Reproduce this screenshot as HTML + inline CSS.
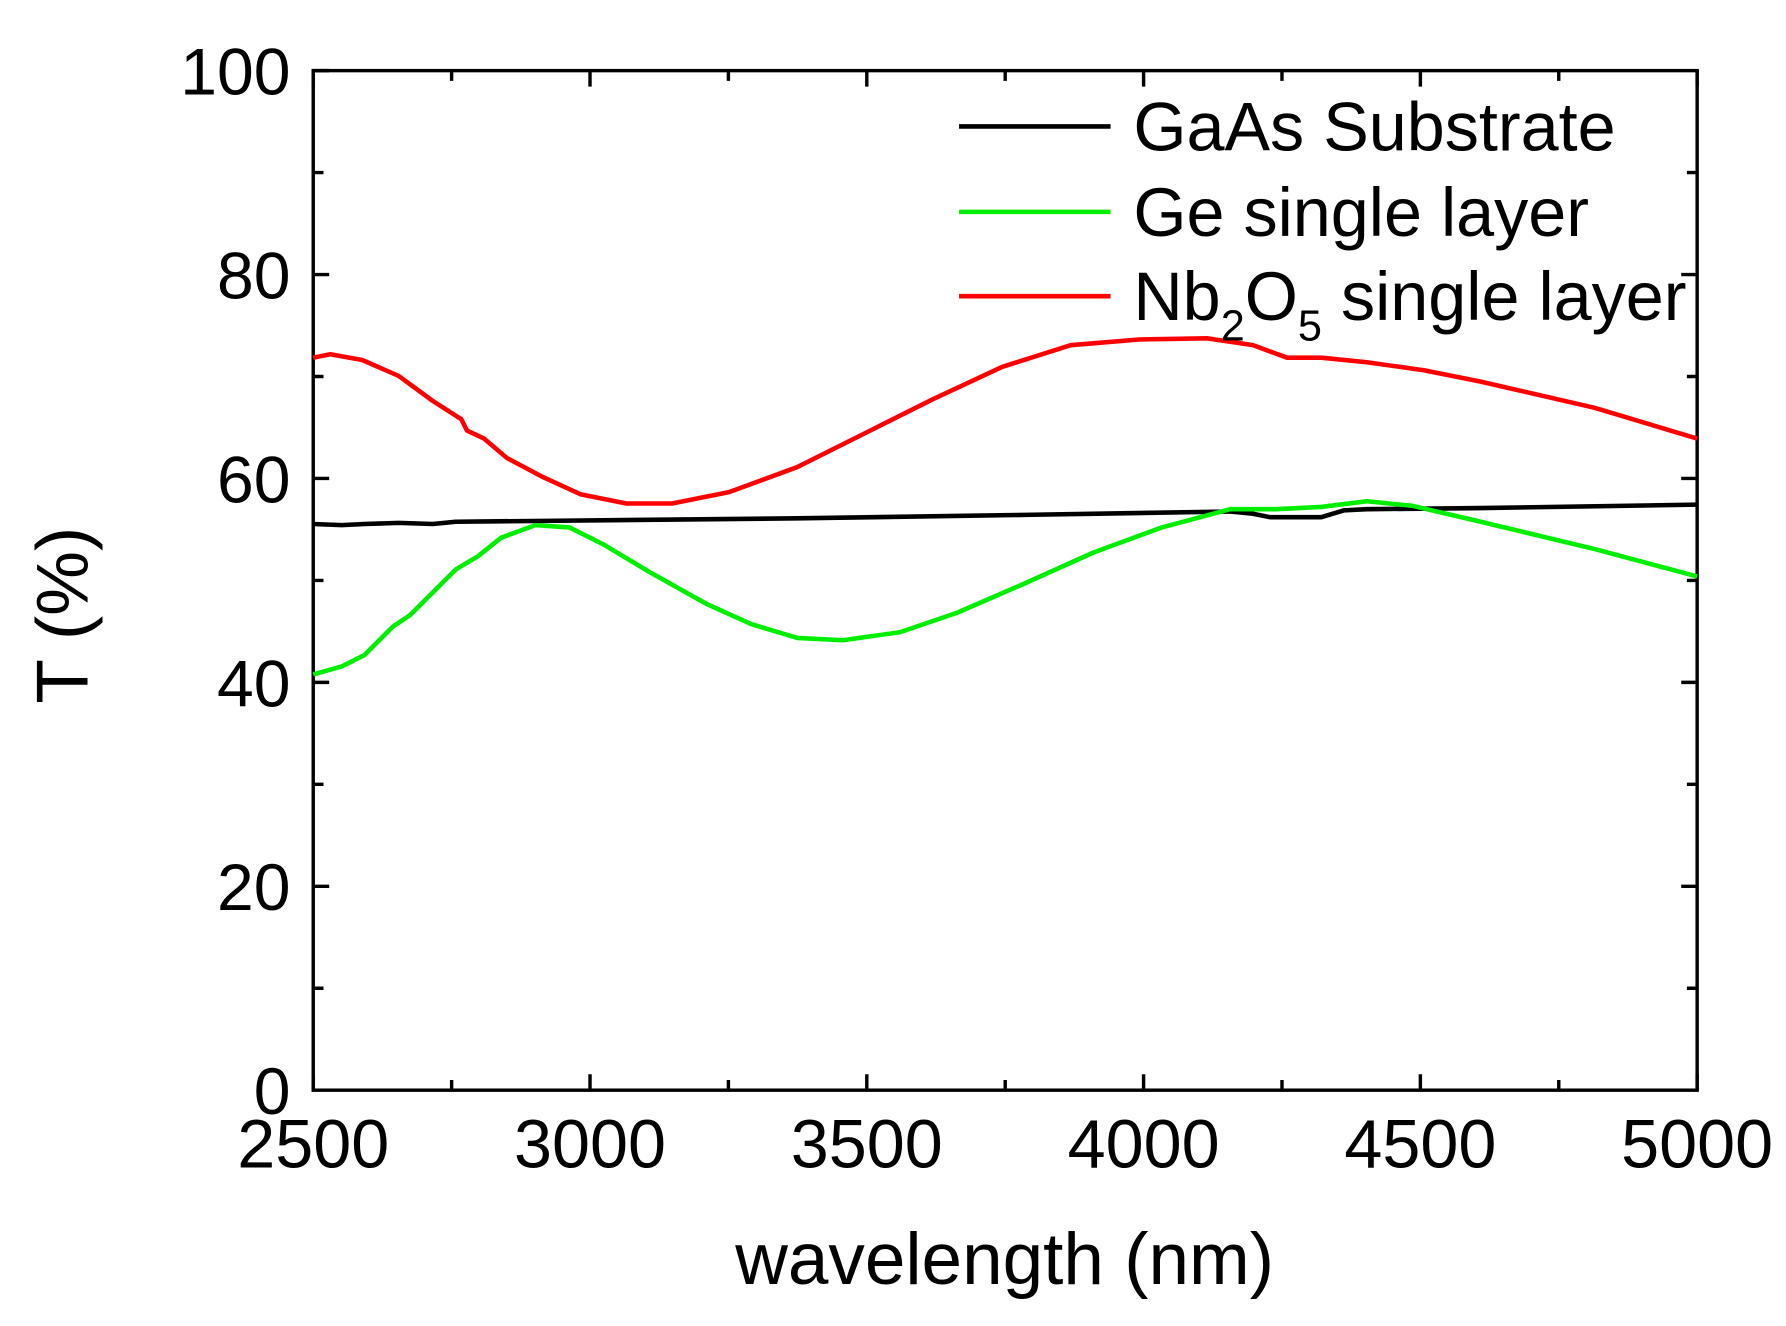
<!DOCTYPE html>
<html><head><style>body{margin:0;background:#fff}svg{display:block}</style></head>
<body>
<svg width="1786" height="1326" viewBox="0 0 1568 1164" preserveAspectRatio="none" font-family="Liberation Sans, sans-serif">
<g stroke="#000" stroke-width="3" fill="none">
<rect x="275" y="62" width="1215" height="895"/>
<path d="M275,957v-14M518,957v-14M761,957v-14M1004,957v-14M1247,957v-14M1490,957v-14
M396.5,957v-9M639.5,957v-9M882.5,957v-9M1125.5,957v-9M1368.5,957v-9
M275,62v14M518,62v14M761,62v14M1004,62v14M1247,62v14M1490,62v14
M396.5,62v9M639.5,62v9M882.5,62v9M1125.5,62v9M1368.5,62v9
M275,778h14M275,599h14M275,420h14M275,241h14M275,62h14
M275,867.5h9M275,688.5h9M275,509.5h9M275,330.5h9M275,151.5h9
M1490,778h-14M1490,599h-14M1490,420h-14M1490,241h-14
M1490,867.5h-9M1490,688.5h-9M1490,509.5h-9M1490,330.5h-9M1490,151.5h-9"/>
</g>
<g font-size="58" fill="#000">
<g text-anchor="end"><text x="255" y="978">0</text><text x="255" y="799">20</text><text x="255" y="620">40</text><text x="255" y="441">60</text><text x="255" y="262">80</text><text x="255" y="83">100</text></g>
</g>
<g font-size="60" fill="#000" text-anchor="middle"><text x="275" y="1025">2500</text><text x="518" y="1025">3000</text><text x="761" y="1025">3500</text><text x="1004" y="1025">4000</text><text x="1247" y="1025">4500</text><text x="1490" y="1025">5000</text></g>
<text x="882" y="1127" font-size="64" text-anchor="middle">wavelength (nm)</text>
<text transform="translate(77,540) rotate(-90)" font-size="64" text-anchor="middle">T (%)</text>
<g fill="none" stroke-width="4" stroke-linejoin="round">
<path stroke="#000" d="M275,460 L300,461 L320,460 L350,459 L380,460 L400,458 L500,457 L700,455 L900,452 L1080,449 L1100,451 L1115,454 L1160,454 L1180,448 L1200,447 L1300,446 L1490,443"/>
<path stroke="#00ee00" d="M275,592 L300,585 L320,575 L345,550 L360,540 L380,520 L400,500 L420,488 L440,472 L470,461 L500,463 L530,478 L570,502 L620,530 L660,548 L700,560 L740,562 L790,555 L840,538 L900,512 L960,485 L1020,463 L1080,447 L1120,447 L1160,445 L1200,440 L1240,444 L1300,458 L1400,482 L1490,506"/>
<path stroke="#ff0000" d="M275,314 L290,311 L318,316 L350,330 L380,352 L405,368 L410,378 L425,385 L445,402 L475,418 L510,434 L550,442 L590,442 L640,432 L700,410 L760,380 L820,350 L880,322 L940,303 L1000,298 L1060,297 L1100,303 L1130,314 L1160,314 L1200,318 L1250,325 L1300,335 L1400,358 L1490,385"/>
<path stroke="#000" d="M842,111H975"/>
<path stroke="#00ee00" d="M842,186H975"/>
<path stroke="#ff0000" d="M842,260H975"/>
</g>
<g font-size="60" fill="#000">
<text x="995" y="132">GaAs Substrate</text>
<text x="995" y="207">Ge single layer</text>
<text x="995" y="281">Nb<tspan font-size="38" dy="18">2</tspan><tspan dy="-18">O</tspan><tspan font-size="38" dy="18">5</tspan><tspan dy="-18"> single layer</tspan></text>
</g>
</svg>
</body></html>
